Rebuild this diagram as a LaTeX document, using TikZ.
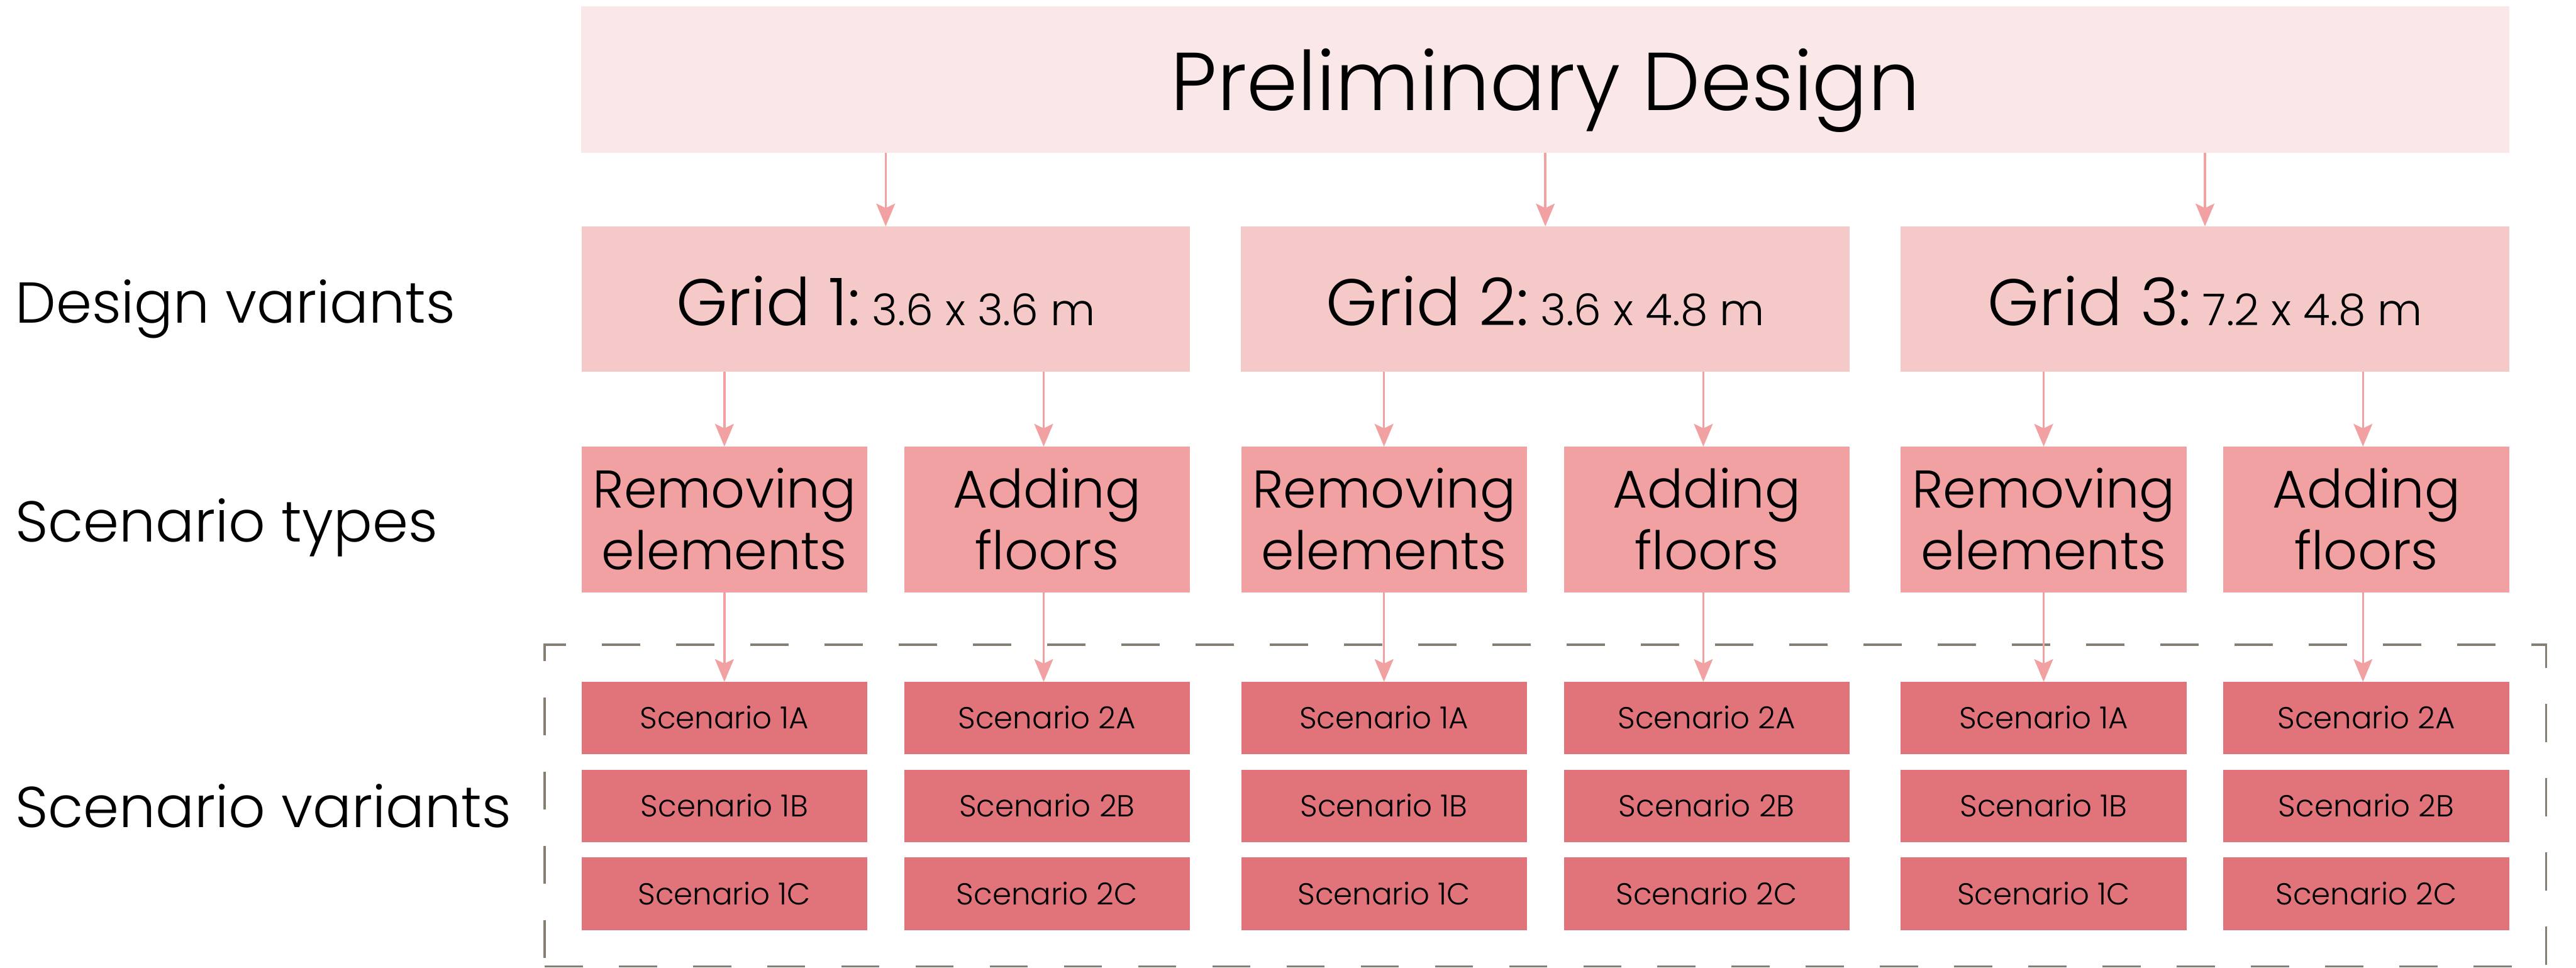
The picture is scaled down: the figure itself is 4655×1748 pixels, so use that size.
\documentclass[tikz,border=0pt]{standalone}
\usepackage{fontspec}
\setmainfont{Poppins Light}
\usetikzlibrary{arrows.meta}
\definecolor{cTop}{HTML}{FAE7E8}
\definecolor{cGrid}{HTML}{F6C9C9}
\definecolor{cType}{HTML}{F1A1A2}
\definecolor{cVar}{HTML}{E0747A}
\definecolor{cArrow}{HTML}{F1A1A2}
\definecolor{cDash}{HTML}{857F73}
\newcommand{\titlefont}{\fontsize{42.2}{50}\selectfont}
\newcommand{\labelfont}{\fontsize{29.6}{36}\selectfont}
\newcommand{\gridfont}{\fontsize{33.8}{40}\selectfont}
\newcommand{\dimfont}{\fontsize{22.5}{27}\selectfont}
\newcommand{\typefont}{\fontsize{27.3}{31.6}\selectfont}
\newcommand{\varfont}{\fontsize{15.6}{19}\selectfont}
\begin{document}
\begin{tikzpicture}[x=0.01cm,y=-0.01cm,
  boxbase/.style={rectangle, inner sep=0pt, outer sep=0pt, text=black},
  topbox/.style={boxbase, fill=cTop, minimum width=34.83cm, minimum height=2.64cm,
    font=\titlefont, text height=1.10cm, text depth=0pt},
  gridbox/.style={boxbase, fill=cGrid, minimum width=10.99cm, minimum height=2.63cm,
    text height=0.95cm, text depth=0pt},
  typebox/.style={boxbase, fill=cType, minimum width=5.16cm, minimum height=2.64cm},
  typetext/.style={anchor=base, inner sep=0pt, font=\typefont},
  varbox/.style={boxbase, fill=cVar, minimum width=5.16cm, minimum height=1.31cm,
    font=\varfont, text height=0.39cm, text depth=0pt},
  rowlabel/.style={anchor=base west, inner sep=0pt, font=\labelfont},
  arr/.style={draw=cArrow, line width=1.1pt, -{Stealth[length=0.41cm,width=0.34cm,inset=0.08cm]}},
  groupbox/.style={rectangle, draw=cDash, line width=1.1pt, dash pattern=on 0.69cm off 0.65cm,
    minimum width=36.15cm, minimum height=5.81cm, inner sep=0pt}
]
\useasboundingbox (0,0) rectangle (4655,1748);

% group of scenario variants
\node[groupbox] (grp) at (2792.5,1455.5) {};

% row labels
\node[rowlabel] (lab1) at (27,584) {Design variants};
\node[rowlabel] (lab2) at (27,979) {Scenario types};
\node[rowlabel] (lab3) at (27,1495) {Scenario variants};

% top box
\node[topbox] (pd) at (2792.5,144) {Preliminary Design};

\foreach \g/\gx/\dims in {1/1600.5/3.6 x 3.6 m, 2/2792.5/3.6 x 4.8 m, 3/3984.5/7.2 x 4.8 m}{
  \node[gridbox] (g\g) at (\gx,540.5) {\gridfont Grid \g:{\dimfont\ \dims}};
  \node[typebox] (r\g) at (\gx-291.5,939) {};
  \node[typetext] (rA\g) at ([yshift=0.21cm]r\g.center) {Removing};
  \node[typetext] (rB\g) at ([yshift=-0.90cm]r\g.center) {elements};
  \node[typebox] (a\g) at (\gx+291.5,939) {};
  \node[typetext] (aA\g) at ([yshift=0.21cm]a\g.center) {Adding};
  \node[typetext] (aB\g) at ([yshift=-0.90cm]a\g.center) {floors};
  \foreach \v/\vy in {A/1297.5, B/1456, C/1615}{
    \node[varbox] (s1\g\v) at (\gx-291.5,\vy) {Scenario 1\v};
    \node[varbox] (s2\g\v) at (\gx+291.5,\vy) {Scenario 2\v};
  }
  \draw[arr] (g\g.north |- pd.south) -- (g\g.north);
  \draw[arr] (r\g.north |- g\g.south) -- (r\g.north);
  \draw[arr] ([xshift=-0.06cm]a\g.north |- g\g.south) -- ([xshift=-0.06cm]a\g.north);
  \draw[arr] (r\g.south) -- (s1\g A.north);
  \draw[arr] ([xshift=-0.06cm]a\g.south) -- ([xshift=-0.06cm]s2\g A.north);
}
\end{tikzpicture}
\end{document}
